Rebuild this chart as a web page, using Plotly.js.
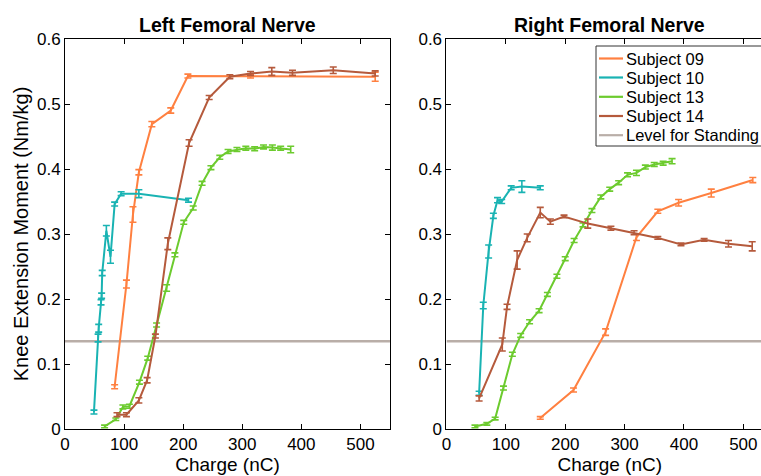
<!DOCTYPE html>
<html>
<head>
<meta charset="utf-8">
<script src="https://cdn.plot.ly/plotly-3.0.1.min.js"></script>
<style>
html, body { margin: 0; padding: 0; overflow: hidden; background: #fff; }
#chart { width: 790px; height: 476px; }
</style>
</head>
<body>
<div id="chart"></div>
<script>
// ---- Data ----
const seriesNames = ["Subject 09", "Subject 10", "Subject 13", "Subject 14"];
const standingName = "Level for Standing";
const standingLevel = 0.135;
const xTicks = [0, 100, 200, 300, 400, 500];
const yTicks = [0, 0.1, 0.2, 0.3, 0.4, 0.5, 0.6];
const panelTitles = ["Left Femoral Nerve", "Right Femoral Nerve"];

// Left femoral nerve
const left09_x = [84, 104, 115, 125, 147, 179, 208, 314, 525];
const left09_y = [0.065, 0.223, 0.330, 0.395, 0.469, 0.490, 0.543, 0.543, 0.542];
const left09_e = [0.003, 0.006, 0.012, 0.004, 0.004, 0.004, 0.003, 0.003, 0.007];

const left10_x = [49, 56, 57, 61, 62, 63, 70, 77, 84, 95, 125, 209];
const left10_y = [0.026, 0.140, 0.155, 0.195, 0.205, 0.240, 0.305, 0.265, 0.346, 0.362, 0.362, 0.352];
const left10_e = [0.003, 0.006, 0.006, 0.004, 0.004, 0.004, 0.008, 0.010, 0.003, 0.003, 0.006, 0.003];

const left13_x = [67, 86, 98, 109, 126, 140, 155, 172, 186, 201, 217, 232, 247, 262, 276, 291, 306, 321, 336, 351, 365, 382];
const left13_y = [0.004, 0.015, 0.034, 0.035, 0.072, 0.109, 0.160, 0.217, 0.268, 0.318, 0.340, 0.378, 0.402, 0.418, 0.427, 0.430, 0.432, 0.431, 0.434, 0.433, 0.432, 0.430];
const left13_e = [0.002, 0.002, 0.003, 0.003, 0.003, 0.003, 0.003, 0.005, 0.003, 0.003, 0.003, 0.003, 0.003, 0.003, 0.003, 0.003, 0.003, 0.003, 0.003, 0.004, 0.003, 0.005];

const left14_x = [88, 104, 125, 139, 153, 174, 210, 244, 279, 314, 350, 385, 454, 525];
const left14_y = [0.022, 0.022, 0.044, 0.075, 0.143, 0.285, 0.440, 0.510, 0.542, 0.547, 0.550, 0.548, 0.552, 0.547];
const left14_e = [0.003, 0.003, 0.004, 0.004, 0.003, 0.009, 0.005, 0.003, 0.003, 0.003, 0.006, 0.004, 0.005, 0.004];

// Right femoral nerve
const right09_x = [158, 214, 268, 320, 356, 391, 446, 516];
const right09_y = [0.017, 0.060, 0.149, 0.295, 0.335, 0.348, 0.363, 0.383];
const right09_e = [0.002, 0.003, 0.005, 0.005, 0.003, 0.005, 0.006, 0.004];

const right10_x = [55, 62, 71, 79, 86, 93, 109, 127, 158];
const right10_y = [0.055, 0.190, 0.273, 0.328, 0.352, 0.350, 0.371, 0.373, 0.371];
const right10_e = [0.003, 0.005, 0.010, 0.004, 0.004, 0.003, 0.003, 0.009, 0.003];

const right13_x = [48, 68, 82, 96, 111, 125, 140, 156, 170, 186, 200, 215, 230, 245, 260, 275, 290, 305, 320, 335, 350, 365, 380];
const right13_y = [0.004, 0.008, 0.016, 0.063, 0.115, 0.144, 0.165, 0.182, 0.207, 0.235, 0.262, 0.290, 0.314, 0.336, 0.357, 0.369, 0.379, 0.391, 0.394, 0.403, 0.407, 0.409, 0.412];
const right13_e = [0.002, 0.002, 0.002, 0.003, 0.003, 0.003, 0.003, 0.003, 0.003, 0.003, 0.003, 0.003, 0.003, 0.003, 0.003, 0.003, 0.003, 0.003, 0.004, 0.003, 0.003, 0.003, 0.004];

const right14_x = [55, 94, 102, 119, 136, 158, 175, 198, 238, 277, 316, 356, 395, 434, 475, 515];
const right14_y = [0.047, 0.130, 0.188, 0.260, 0.294, 0.333, 0.319, 0.327, 0.316, 0.309, 0.302, 0.294, 0.284, 0.291, 0.285, 0.281];
const right14_e = [0.004, 0.010, 0.004, 0.014, 0.006, 0.008, 0.004, 0.002, 0.007, 0.003, 0.003, 0.002, 0.002, 0.002, 0.005, 0.007];

// ---- Styling ----
const colors = ["#ff8040", "#19b3b3", "#6ccb2e", "#b55a3c"];
const standingColor = "#b9aea8";
const FONT = "Liberation Sans, Arial, Helvetica, sans-serif";

const W = 790, H = 476;
const M = { l: 65, r: 17, t: 39, b: 47 };
const plotW = W - M.l - M.r, plotH = H - M.t - M.b;
const px2paperX = p => (p - M.l) / plotW;
const px2paperY = p => (H - M.b - p) / plotH;

const leftSets = [[left09_x, left09_y, left09_e], [left10_x, left10_y, left10_e], [left13_x, left13_y, left13_e], [left14_x, left14_y, left14_e]];
const rightSets = [[right09_x, right09_y, right09_e], [right10_x, right10_y, right10_e], [right13_x, right13_y, right13_e], [right14_x, right14_y, right14_e]];

const traces = [];
[["x", "y"], ["x2", "y2"]].forEach(ax => {
  traces.push({
    x: [0, 550], y: [standingLevel, standingLevel],
    xaxis: ax[0], yaxis: ax[1], mode: "lines",
    line: { color: standingColor, width: 2.5 },
    name: standingName, showlegend: false, hoverinfo: "skip"
  });
});
function addSets(sets, xa, ya) {
  sets.forEach((s, i) => {
    traces.push({
      x: s[0], y: s[1], xaxis: xa, yaxis: ya, mode: "lines",
      line: { color: colors[i], width: 2 },
      error_y: { type: "data", array: s[2], visible: true, color: colors[i], thickness: 1.6, width: 3.5 },
      name: seriesNames[i], showlegend: false
    });
  });
}
addSets(leftSets, "x", "y");
addSets(rightSets, "x2", "y2");

const axBase = {
  range: [0, 550], tickvals: xTicks, ticks: "inside", ticklen: 5, tickwidth: 1, tickcolor: "#000",
  showline: true, linecolor: "#000", linewidth: 1, mirror: "allticks", showgrid: false, zeroline: false,
  tickfont: { family: FONT, size: 17, color: "#000" },
  title: { text: "Charge (nC)", font: { family: FONT, size: 19, color: "#000" }, standoff: 4 },
  fixedrange: true
};
const ayBase = {
  range: [0, 0.6], tickvals: yTicks, ticks: "inside", ticklen: 5, tickwidth: 1, tickcolor: "#000",
  showline: true, linecolor: "#000", linewidth: 1, mirror: "allticks", showgrid: false, zeroline: false,
  tickfont: { family: FONT, size: 17, color: "#000" }, fixedrange: true
};

// ---- Legend (drawn as shapes + text, MATLAB style) ----
const legendNames = seriesNames.concat([standingName]);
const legendColors = colors.concat([standingColor]);
const legBox = { x0: 596, x1: 768, y0: 46, y1: 146 };
const legRowY = [58.5, 77.5, 96.8, 116, 135.2];
const shapes = [{
  type: "rect", xref: "paper", yref: "paper",
  x0: px2paperX(legBox.x0), x1: px2paperX(legBox.x1), y0: px2paperY(legBox.y1), y1: px2paperY(legBox.y0),
  line: { color: "#333", width: 1 }, fillcolor: "#fff", layer: "above"
}];
const annotations = [
  { text: "<b>" + panelTitles[0] + "</b>", xref: "x domain", yref: "paper", x: 0.5, y: 1, xanchor: "center", yanchor: "bottom", yshift: 1, showarrow: false, font: { family: FONT, size: 19.5, color: "#000" } },
  { text: "<b>" + panelTitles[1] + "</b>", xref: "x2 domain", yref: "paper", x: 0.5, y: 1, xanchor: "center", yanchor: "bottom", yshift: 1, showarrow: false, font: { family: FONT, size: 19.5, color: "#000" } }
];
legendNames.forEach((nm, i) => {
  shapes.push({
    type: "line", xref: "paper", yref: "paper",
    x0: px2paperX(599), x1: px2paperX(623), y0: px2paperY(legRowY[i]), y1: px2paperY(legRowY[i]),
    line: { color: legendColors[i], width: 2.2 }, layer: "above"
  });
  annotations.push({
    text: nm, xref: "paper", yref: "paper", x: px2paperX(625), y: px2paperY(legRowY[i]),
    xanchor: "left", yanchor: "middle", showarrow: false, borderpad: 0,
    font: { family: FONT, size: 16.5, color: "#000" }
  });
});

const layout = {
  width: W, height: H,
  margin: M,
  paper_bgcolor: "#fff", plot_bgcolor: "#fff",
  font: { family: FONT, color: "#000" },
  xaxis: Object.assign({}, axBase, { domain: [0, 0.459], anchor: "y" }),
  xaxis2: Object.assign({}, axBase, { domain: [0.5388, 1], anchor: "y2" }),
  yaxis: Object.assign({}, ayBase, { domain: [0, 1], anchor: "x",
    title: { text: "Knee Extension Moment (Nm/kg)", font: { family: FONT, size: 20, color: "#000" }, standoff: 2 } }),
  yaxis2: Object.assign({}, ayBase, { domain: [0, 1], anchor: "x2" }),
  showlegend: false,
  shapes: shapes,
  annotations: annotations
};

Plotly.newPlot("chart", traces, layout, { displayModeBar: false, staticPlot: true });
</script>
</body>
</html>
